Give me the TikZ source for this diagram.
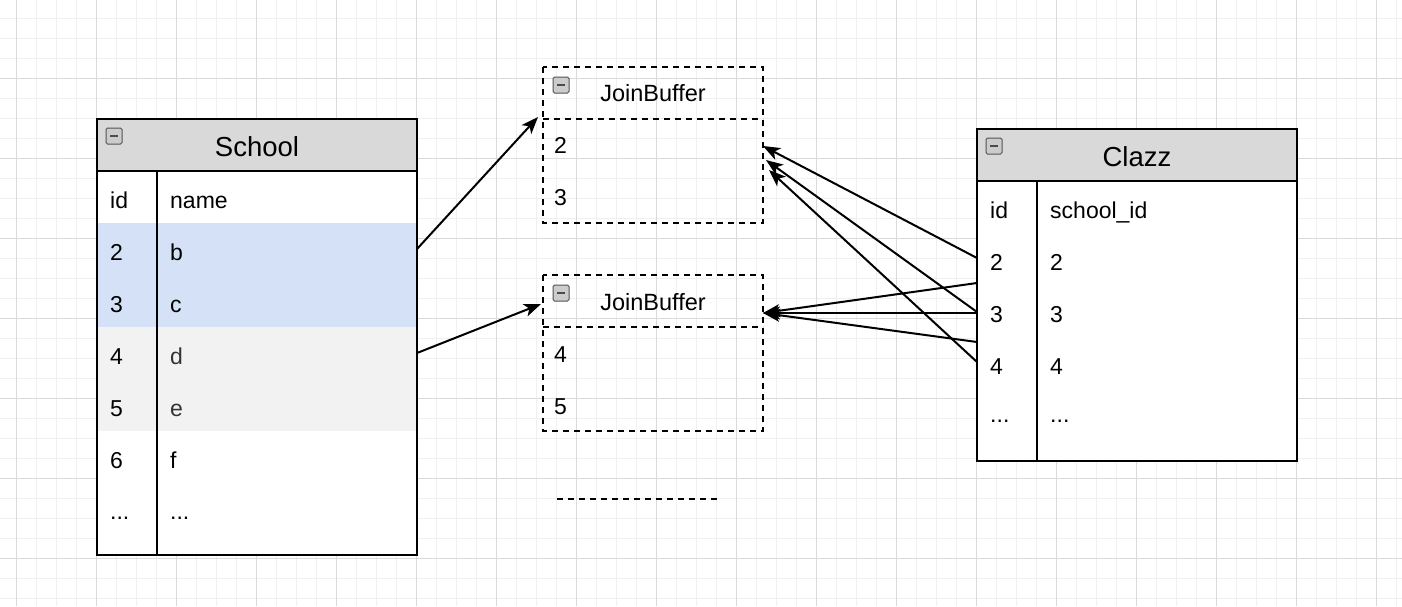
\documentclass[tikz,border=0pt]{standalone}
\usepackage{fontspec}
\setmainfont{Liberation Sans}
\usetikzlibrary{arrows.meta}

\definecolor{hdrgray}{HTML}{D9D9D9}
\definecolor{rowblue}{HTML}{D4E1F7}
\definecolor{rowgray}{HTML}{F2F2F2}
\definecolor{gridminor}{HTML}{F0F0F0}
\definecolor{gridmajor}{HTML}{DADADA}

\tikzset{
  tabbox/.style={anchor=north west, inner sep=0pt, outer sep=0pt},
  tabline/.style={line width=2pt, black},
  dashline/.style={line width=2pt, black, dash pattern=on 6pt off 5pt},
  cell/.style={anchor=base west, inner sep=0pt, font=\fontsize{23}{27}\selectfont},
  tabtitle/.style={anchor=base, inner sep=0pt, font=\fontsize{27.5}{32}\selectfont},
  buftitle/.style={anchor=base, inner sep=0pt, font=\fontsize{23.5}{28}\selectfont},
  link/.style={-{Stealth[length=17pt,width=13pt,inset=4.5pt]}, line width=2pt},
}

% collapse icon in a table header
\newcommand{\tabicon}[2]{%
  \draw[gray!65!black, fill=gray!40, rounded corners=1.5pt, line width=1pt]
    (#1,#2) rectangle ++(16,16);
  \draw[black!70, line width=2.6pt] (#1+4,#2+8) -- ++(8,0);
}

\begin{document}
\begin{tikzpicture}[x=1pt,y=-1pt]
  \useasboundingbox (0,0) rectangle (1402,606);
  % --- background grid
  \fill[white] (0,0) rectangle (1402,606);
  \foreach \k in {0,...,71} {
    \pgfmathsetmacro{\xx}{-3.3+20*\k}
    \draw[gridminor,line width=1.4pt] (\xx,0) -- (\xx,606);
  }
  \foreach \k in {0,...,31} {
    \pgfmathsetmacro{\yy}{-1.7+20*\k}
    \draw[gridminor,line width=1.4pt] (0,\yy) -- (1402,\yy);
  }
  \foreach \k in {0,...,17} {
    \pgfmathsetmacro{\xx}{16.7+80*\k}
    \draw[gridmajor,line width=1pt] (\xx,0) -- (\xx,606);
  }
  \foreach \k in {0,...,6} {
    \pgfmathsetmacro{\yy}{78.3+80*\k}
    \draw[gridmajor,line width=1pt] (0,\yy) -- (1402,\yy);
  }

  % --- School table
  \node[tabbox, fill=white, minimum width=320pt, minimum height=436pt] (school) at (97,119) {};
  \node[tabbox, fill=hdrgray, minimum width=320pt, minimum height=52pt] (school-hd) at (97,119) {};
  \node[tabtitle] (school-title) at (257,156.5) {School};
  \tabicon{106}{128}
  \foreach \rkey/\rid/\rname/\rfill/\rcol [count=\n from 0] in
      {id/id/name/white/black, 2/2/b/rowblue/black, 3/3/c/rowblue/black,
       4/4/d/rowgray/black!80, 5/5/e/rowgray/black!80, 6/6/f/white/black} {
    \pgfmathsetmacro{\yy}{171+52*\n}
    \node[tabbox, fill=\rfill, minimum width=320pt, minimum height=52pt] (s-row\rkey) at (97,\yy) {};
    \node[cell] (s-id\rkey) at (110,\yy+37) {\rid};
    \node[cell, text=\rcol] (s-name\rkey) at (170,\yy+37) {\rname};
  }
  \node[cell] (s-iddots) at (110,519) {...};
  \node[cell] (s-namedots) at (170,519) {...};
  \draw[tabline] (school.north west) rectangle (school.south east);
  \draw[tabline] (school-hd.south west) -- (school-hd.south east);
  \draw[tabline] ([xshift=60pt]school-hd.south west) -- ([xshift=60pt]school.south west);

  % --- Clazz table
  \node[tabbox, fill=white, minimum width=320pt, minimum height=332pt] (clazz) at (977,129) {};
  \node[tabbox, fill=hdrgray, minimum width=320pt, minimum height=52pt] (clazz-hd) at (977,129) {};
  \node[tabtitle] (clazz-title) at (1137,166.5) {Clazz};
  \tabicon{986}{138}
  \foreach \rkey/\rid/\rname [count=\n from 0] in
      {id/id/school\_id, 2/2/2, 3/3/3, 4/4/4} {
    \pgfmathsetmacro{\yy}{181+52*\n}
    \node[tabbox, minimum width=320pt, minimum height=52pt] (c-row\rkey) at (977,\yy) {};
    \node[cell] (c-id\rkey) at (990,\yy+37) {\rid};
    \node[cell] (c-name\rkey) at (1050,\yy+37) {\rname};
  }
  \node[cell] (c-iddots) at (990,422) {...};
  \node[cell] (c-namedots) at (1050,422) {...};
  \draw[tabline] (clazz.north west) rectangle (clazz.south east);
  \draw[tabline] (clazz-hd.south west) -- (clazz-hd.south east);
  \draw[tabline] ([xshift=60pt]clazz-hd.south west) -- ([xshift=60pt]clazz.south west);

  % --- JoinBuffer 1
  \node[tabbox, minimum width=220pt, minimum height=52pt] (jb1-hd) at (543,67) {};
  \node[tabbox, minimum width=220pt, minimum height=52pt] (jb1-r2) at (543,119) {};
  \node[tabbox, minimum width=220pt, minimum height=52pt] (jb1-r3) at (543,171) {};
  \node[buftitle] (jb1-title) at (653,101.5) {JoinBuffer};
  \tabicon{553}{77}
  \node[cell] (jb1-t2) at (554,153.5) {2};
  \node[cell] (jb1-t3) at (554,205.5) {3};
  \draw[dashline] (jb1-hd.north west) rectangle (jb1-r3.south east);
  \draw[dashline] (jb1-hd.south west) -- (jb1-hd.south east);

  % --- JoinBuffer 2
  \node[tabbox, minimum width=220pt, minimum height=52pt] (jb2-hd) at (543,275) {};
  \node[tabbox, minimum width=220pt, minimum height=52pt] (jb2-r4) at (543,327) {};
  \node[tabbox, minimum width=220pt, minimum height=52pt] (jb2-r5) at (543,379) {};
  \node[buftitle] (jb2-title) at (653,310) {JoinBuffer};
  \tabicon{553}{285}
  \node[cell] (jb2-t4) at (554,362) {4};
  \node[cell] (jb2-t5) at (554,414) {5};
  \draw[dashline] (jb2-hd.north west) rectangle (jb2-r5.south east);
  \draw[dashline] (jb2-hd.south west) -- (jb2-hd.south east);

  % --- more buffers
  \draw[dashline] (557,499) -- (717,499);

  % --- School rows into the buffers
  \draw[link] (s-row2.east) -- ([shift={(-5,-2)}]jb1-hd.south west);
  \draw[link] (s-row4.east) -- ([shift={(-2,3)}]jb2-hd.west);

  % --- Clazz rows probing the buffers
  \draw[link] ([shift={(0,-1)}]c-row2.west) -- ([shift={(0,1)}]jb1-r2.east);
  \draw[link] ([shift={(0,1)}]c-row3.west) -- ([shift={(3,15)}]jb1-r2.east);
  \draw[link] ([shift={(0,-1)}]c-row4.west) -- ([shift={(6,25)}]jb1-r2.east);
  \draw[link] ([shift={(0,24)}]c-row2.west) -- ([shift={(0,12)}]jb2-hd.east);
  \draw[link] ([shift={(0,2)}]c-row3.west) -- ([shift={(0,12)}]jb2-hd.east);
  \draw[link] ([shift={(0,-21)}]c-row4.west) -- ([shift={(0,12)}]jb2-hd.east);
\end{tikzpicture}
\end{document}
